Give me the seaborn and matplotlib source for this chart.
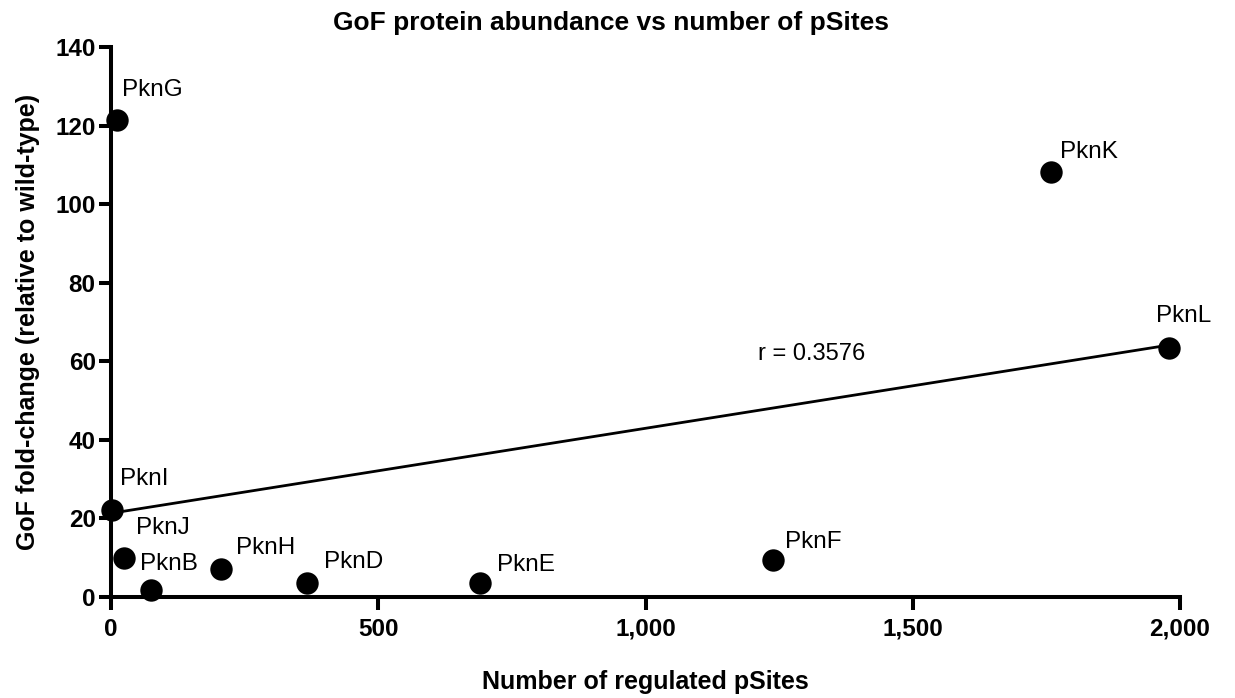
import matplotlib
matplotlib.use("Agg")
import matplotlib.pyplot as plt
import seaborn as sns
import numpy as np
import pandas as pd

# Kinase gain-of-function data
kinases = ["PknG", "PknK", "PknL", "PknI", "PknJ", "PknB", "PknH", "PknD", "PknE", "PknF"]
regulated_psites = [11, 1758, 1979, 2, 24, 75, 206, 367, 691, 1238]
fold_change = [121.3, 108.2, 63.4, 22.2, 9.9, 1.8, 7.1, 3.6, 3.6, 9.4]
x_ticks = [0, 500, 1000, 1500, 2000]
y_ticks = [0, 20, 40, 60, 80, 100, 120, 140]
r_label = "r = 0.3576"

df = pd.DataFrame({"kinase": kinases, "psites": regulated_psites, "fc": fold_change})

sns.set_theme(style="ticks")
plt.rcParams["font.family"] = ["Liberation Sans", "DejaVu Sans"]
plt.rcParams.update({"text.color": "black", "axes.labelcolor": "black",
                     "xtick.color": "black", "ytick.color": "black"})

fig = plt.figure(figsize=(12.35, 6.98), dpi=100)
ax = fig.add_axes([0.0899, 0.1447, 0.8656, 0.788])

sns.regplot(data=df, x="psites", y="fc", ax=ax, scatter=False, ci=None,
            truncate=True, line_kws={"color": "black", "lw": 2.0})
sns.scatterplot(data=df, x="psites", y="fc", ax=ax, s=260, color="black",
                edgecolor="black", linewidth=0, zorder=5, clip_on=False)

# per-label offsets (points) for readability
offsets = {
    "PknG": (4, 22), "PknK": (7, 14), "PknL": (-9, 23), "PknI": (6, 22),
    "PknJ": (9, 22), "PknB": (-8, 19), "PknH": (11, 15), "PknD": (12, 15),
    "PknE": (12, 13), "PknF": (9, 13),
}
for k, xv, yv in zip(kinases, regulated_psites, fold_change):
    dx, dy = offsets[k]
    ax.annotate(k, (xv, yv), xytext=(dx, dy), textcoords="offset points",
                ha="left", va="center", fontsize=17.5, color="black")

ax.text(1210, 61.8, r_label, ha="left", va="center", fontsize=17, color="black")

ax.set_xlim(0, 2000)
ax.set_ylim(0, 140)
ax.set_xticks(x_ticks)
ax.set_xticklabels([f"{v:,}" for v in x_ticks])
ax.set_yticks(y_ticks)

for side in ["top", "right"]:
    ax.spines[side].set_visible(False)
for side in ["left", "bottom"]:
    ax.spines[side].set_linewidth(2.9)
    ax.spines[side].set_color("black")
ax.tick_params(axis="both", length=9, width=2.9, color="black", labelsize=17.5)
ax.tick_params(axis="x", pad=6)
ax.tick_params(axis="y", pad=2)
for lab in ax.get_xticklabels() + ax.get_yticklabels():
    lab.set_fontweight("bold")

ax.set_xlabel("Number of regulated pSites", fontsize=18, fontweight="bold", labelpad=21)
ax.set_ylabel("GoF fold-change (relative to wild-type)", fontsize=18,
              fontweight="bold", labelpad=11)
ax.set_title("GoF protein abundance vs number of pSites", fontsize=19,
             fontweight="bold", pad=12, x=0.468)

fig.savefig("out.png", dpi=100, facecolor="white")
